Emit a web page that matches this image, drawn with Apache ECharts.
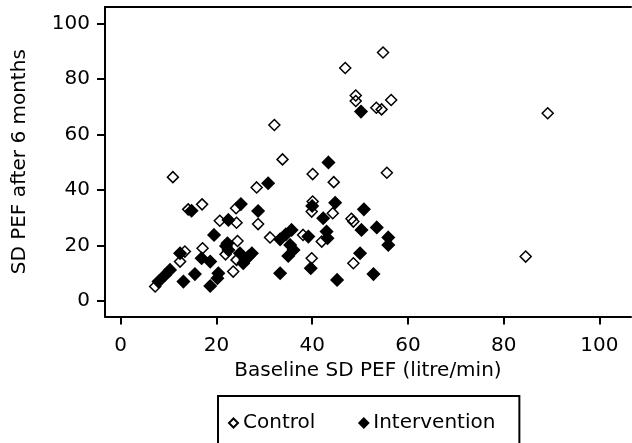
<!DOCTYPE html>
<html>
<head>
<meta charset="utf-8">
<script src="https://cdn.jsdelivr.net/npm/echarts@6/dist/echarts.min.js"></script>
<style>html,body{margin:0;padding:0;background:#fff;}#chart{width:632px;height:443px;}</style>
</head>
<body>
<div id="chart"></div>
<script>
// Control group: [baseline SD PEF, SD PEF after 6 months]
var controlX = [46.9, 49.1, 49.1, 32.1, 33.8, 10.9, 40.1, 44.5, 54.8, 56.5, 53.4, 54.5, 89.2, 55.6, 28.4, 14.1, 17.0, 24.1, 28.7, 20.7, 24.2, 24.4, 21.9, 17.1, 13.4, 12.4, 7.2, 24.2, 23.5, 31.2, 38.1, 40.1, 39.9, 44.3, 42.0, 39.9, 48.6, 48.2, 48.6, 84.6];
var controlY = [83.9, 74.0, 72.0, 63.4, 51.0, 44.6, 45.7, 42.8, 89.5, 72.4, 69.6, 69.0, 67.6, 46.2, 40.9, 33.0, 34.8, 33.4, 27.7, 28.9, 28.2, 21.6, 16.8, 19.0, 17.8, 14.2, 5.2, 14.8, 10.6, 22.9, 23.8, 35.8, 32.2, 31.6, 21.4, 15.4, 28.6, 29.6, 13.6, 16.0];
// Intervention group
var interventionX = [50.2, 43.4, 30.8, 14.8, 25.1, 28.7, 22.5, 19.5, 22.3, 22.5, 12.4, 16.9, 18.7, 10.3, 9.3, 7.9, 13.1, 15.5, 18.7, 20.4, 20.2, 24.9, 26.7, 27.4, 25.6, 33.3, 35.7, 35.4, 36.1, 39.2, 35.0, 40.0, 44.8, 42.3, 43.0, 43.2, 39.7, 33.3, 45.2, 50.8, 50.3, 53.5, 55.9, 55.9, 50.0, 52.8, 26.0, 22.0, 34.5];
var interventionY = [68.2, 49.9, 42.4, 32.5, 34.9, 32.4, 29.2, 23.8, 20.8, 18.4, 17.2, 15.4, 14.2, 11.2, 9.4, 7.0, 7.0, 9.7, 5.4, 10.0, 8.2, 17.2, 16.0, 17.2, 13.6, 22.2, 25.6, 20.2, 18.4, 23.2, 16.2, 34.2, 35.4, 29.8, 25.0, 22.6, 11.8, 10.0, 7.6, 33.0, 25.6, 26.5, 22.9, 20.2, 17.2, 9.7, 14.8, 19.8, 24.0];
var tickValues = [0, 20, 40, 60, 80, 100];
var seriesNames = ['Control', 'Intervention'];
var xTitle = 'Baseline SD PEF (litre/min)';
var yTitle = 'SD PEF after 6 months';

function pairs(xs, ys) { return xs.map(function (x, i) { return [x, ys[i]]; }); }

var FONT = 'DejaVu Sans';
var FS = 20;
var chart = echarts.init(document.getElementById('chart'), null, {renderer: 'canvas'});
var xMin = -3.28, xMax = 106.6, yMin = -5.58, yMax = 105.87;
chart.setOption({
  animation: false,
  backgroundColor: '#fff',
  textStyle: {fontFamily: FONT, color: '#000'},
  grid: {left: 105, right: 1, top: 7, bottom: 126.5, show: false, containLabel: false},
  legend: {
    data: seriesNames,
    left: 218, top: 396,
    orient: 'horizontal',
    padding: [17, 24, 40, 10],
    itemGap: 43, itemWidth: 9, itemHeight: 9,
    borderColor: '#000', borderWidth: 2, borderRadius: 0,
    textStyle: {fontFamily: FONT, fontSize: FS, color: '#000'},
    selectedMode: false
  },
  xAxis: [{
    type: 'value', min: xMin, max: xMax, position: 'bottom',
    name: xTitle, nameLocation: 'middle', nameGap: 42,
    nameTextStyle: {fontFamily: FONT, fontSize: FS, color: '#000'},
    axisLine: {show: true, onZero: false, lineStyle: {color: '#000', width: 2}},
    axisTick: {show: true, inside: false, length: 8, lineStyle: {color: '#000', width: 2}, customValues: tickValues},
    axisLabel: {show: true, margin: 19, fontFamily: FONT, fontSize: FS, color: '#000', customValues: tickValues,
      showMinLabel: true, showMaxLabel: true},
    splitLine: {show: false}
  }, {
    type: 'value', min: xMin, max: xMax, position: 'top',
    axisLine: {show: true, onZero: false, lineStyle: {color: '#000', width: 2}},
    axisTick: {show: false}, axisLabel: {show: false}, splitLine: {show: false}
  }],
  yAxis: [{
    type: 'value', min: yMin, max: yMax, position: 'left',
    name: yTitle, nameLocation: 'middle', nameGap: 75, nameRotate: 90,
    nameTextStyle: {fontFamily: FONT, fontSize: FS, color: '#000'},
    axisLine: {show: true, onZero: false, lineStyle: {color: '#000', width: 2}},
    axisTick: {show: true, inside: false, length: 8, lineStyle: {color: '#000', width: 2}, customValues: tickValues},
    axisLabel: {show: true, margin: 15, fontFamily: FONT, fontSize: FS, color: '#000', customValues: tickValues},
    splitLine: {show: false}
  }],
  series: [{
    name: seriesNames[1], type: 'scatter', xAxisIndex: 0, yAxisIndex: 0,
    symbol: 'diamond', symbolSize: 12,
    itemStyle: {color: '#000', borderColor: '#000', borderWidth: 1.5, opacity: 1},
    emphasis: {disabled: true},
    data: pairs(interventionX, interventionY)
  }, {
    name: seriesNames[0], type: 'scatter', xAxisIndex: 0, yAxisIndex: 0,
    symbol: 'diamond', symbolSize: 11,
    itemStyle: {color: 'rgba(255,255,255,0)', borderColor: '#000', borderWidth: 1.5, opacity: 1},
    emphasis: {disabled: true},
    data: pairs(controlX, controlY)
  }]
});
</script>
</body>
</html>
